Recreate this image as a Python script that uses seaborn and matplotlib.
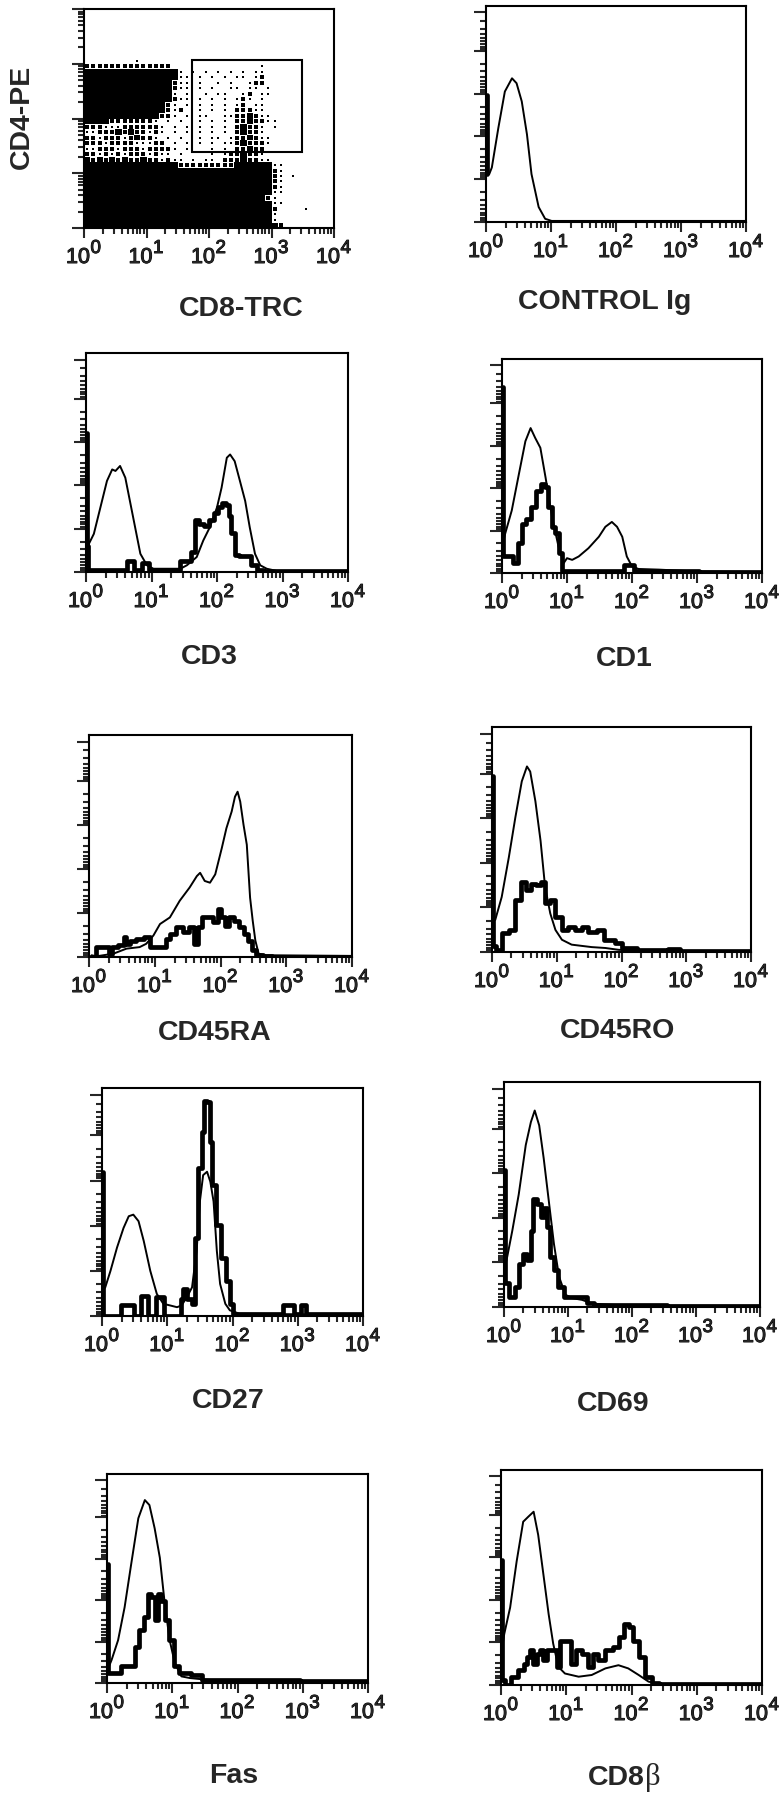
import numpy as np
import matplotlib
matplotlib.use("Agg")
import matplotlib.pyplot as plt
import matplotlib.patheffects as pe
from matplotlib.colors import ListedColormap
from matplotlib.patches import Rectangle
from matplotlib.transforms import offset_copy
import seaborn as sns

# --- data (x in log10 decades, histogram y in % of axis height) ---
DECADES = [0, 1, 2, 3, 4]
TICK_BASE = "10"
TICK_EXPONENTS = ["0", "1", "2", "3", "4"]

# CD8-TRC vs CD4-PE dot plot, 40x40 cells of 0.1 decade, top row first
# '#' solid, 'o' dense dots, '+' sparse dots, '.' empty
DOT_MAP = [
    "........................................",
    "........................................",
    "........................................",
    "........................................",
    "........................................",
    "........................................",
    "........................................",
    "........................................",
    "........................................",
    "........+...............................",
    "oooooooooooooo..............+...........",
    "###############+.+.+.+.+.+.++...........",
    "###############++.+.+.+.++.+o...........",
    "##############o++.+..+.+..+oo...........",
    "##############o++.+.+..++.++.+..........",
    "##############+.+..+.++..+o.++..........",
    "##############o++.+.+.+.+o+.+...........",
    "#############o+.+.+.+.+.+o.++...........",
    "#############o+o..+.+.+.ooo++...........",
    "############oo+.+.++..++oo#o++..........",
    "####ooooooo+.+.+..+.+.+.oo#oo++.........",
    "ooo+++oooooo+.+.+.+.+.+.o#oo+.+.........",
    "++ooo#o#oo+o+.+.+.+.+.+.o#oo+...........",
    "oo+ooo+o#oo+.+.+..+.++.+oo#o++..........",
    "ooo+oooo+++oo.+.+.+.+.++o#ooo+..........",
    "++ooo+ooo+oooo+.+...+.+.oo#oo...........",
    "oo+o+o+ooo+o++.+....+.+oo#oo+...........",
    "#o#o#o#oo#oo+o++.+.++.ooo#oo++..........",
    "###############ooooooooo######++........",
    "##############################o+........",
    "##############################o+.+......",
    "##############################o+........",
    "##############################o+........",
    "##############################++........",
    "#############################o+.........",
    "##############################++........",
    "##############################o....+....",
    "##############################+.........",
    "##############################+.........",
    "###############################o........",
]
GATE_X = [1.72, 3.49]
GATE_Y = [1.39, 3.06]

CTRL_THIN_X = [0.05, 0.09, 0.19, 0.29, 0.40, 0.47, 0.55, 0.63, 0.70, 0.81, 0.91, 1.01, 4.0]
CTRL_THIN_Y = [22.4, 25.5, 44, 61, 67.2, 64.9, 56.4, 41, 22.4, 7, 1.5, 0.5, 0.5]
CTRL_THICK_X = [0.02, 0.02]
CTRL_THICK_Y = [59.5, 22.4]

CD3_THIN_X = [0.02, 0.12, 0.22, 0.32, 0.40, 0.45, 0.52, 0.60, 0.68, 0.75, 0.83, 0.93, 1.03,
              1.13, 1.44, 1.54, 1.69, 1.79, 1.89, 2.00, 2.07, 2.15, 2.20, 2.27, 2.35, 2.43,
              2.50, 2.58, 2.66, 2.76, 2.91, 4.0]
CD3_THIN_Y = [11.5, 17.6, 29.8, 42, 47.3, 46.6, 48.9, 43.5, 31.3, 20.6, 8.4, 3.1, 1.5,
              1.5, 1.5, 3.1, 6.9, 14.5, 20.6, 29.8, 38.9, 52.7, 54.2, 51.1, 42, 32.8,
              20.6, 8.4, 3.1, 1.5, 0.5, 0.5]
CD3_THICK_X = [0.02, 0.02, 0.05, 0.60, 0.65, 0.72, 0.76, 0.84, 0.88, 0.94, 0.98, 1.40, 1.46,
               1.58, 1.64, 1.70, 1.76, 1.84, 1.92, 1.98, 2.04, 2.10, 2.16, 2.20, 2.24, 2.30,
               2.36, 2.48, 2.56, 2.66, 2.74, 4.0]
CD3_THICK_Y = [64, 12, 1, 1, 5, 5, 1, 1, 4, 4, 1, 1, 5, 5, 9, 24, 22, 21, 24, 27, 30, 32,
               31, 26, 18, 8, 7.6, 7.6, 3, 1, 0.5, 0.5]

CD1_THIN_X = [0.02, 0.05, 0.15, 0.26, 0.36, 0.44, 0.51, 0.59, 0.67, 0.77, 0.87, 0.95, 1.00,
              1.08, 1.18, 1.33, 1.49, 1.59, 1.69, 1.77, 1.85, 1.92, 2.00, 2.10, 2.41, 2.67,
              2.92, 4.0]
CD1_THIN_Y = [15, 18.7, 29.5, 46.7, 62.2, 68.4, 63.8, 59.1, 45.1, 26.4, 12.4, 4.7, 7,
              6.2, 7.8, 11.7, 17.1, 21.8, 24.1, 21.8, 17.1, 7.8, 3.1, 1.9, 1.6, 1.2, 0.8, 0.5]
CD1_THICK_X = [0.02, 0.02, 0.08, 0.15, 0.20, 0.28, 0.33, 0.41, 0.49, 0.56, 0.64, 0.69, 0.74,
               0.79, 0.85, 0.90, 0.95, 1.85, 1.90, 2.00, 2.05, 4.0]
CD1_THICK_Y = [88, 8, 7.8, 7.8, 4.7, 14, 23.3, 25.7, 31.1, 38.9, 42, 40.4, 31.1, 21.8,
               18.7, 9.3, 0.8, 0.8, 4, 4, 0.8, 0.5]

CD45RA_THIN_X = [0.04, 0.11, 0.37, 0.57, 0.77, 0.87, 0.98, 1.08, 1.23, 1.38, 1.53, 1.64,
                 1.69, 1.76, 1.84, 1.92, 2.02, 2.09, 2.17, 2.22, 2.26, 2.30, 2.35, 2.40,
                 2.45, 2.49, 2.53, 2.58, 2.70, 4.0]
CD45RA_THIN_Y = [0.8, 0.3, 1.5, 3.8, 4.5, 6, 9.8, 15, 18, 25.6, 31.6, 36.8, 38.3, 34.6,
                 33.8, 37.6, 49.6, 58.6, 66.2, 72.9, 75.2, 70.7, 60.2, 51.1, 27, 16.5, 7.5,
                 1.5, 0.8, 0.5]
CD45RA_THICK_X = [0.01, 0.06, 0.16, 0.26, 0.34, 0.37, 0.52, 0.54, 0.59, 0.67, 0.77, 0.90,
                  0.95, 1.15, 1.18, 1.28, 1.38, 1.48, 1.56, 1.64, 1.69, 1.74, 1.84, 1.92,
                  1.99, 2.04, 2.09, 2.17, 2.25, 2.32, 2.40, 2.45, 2.50, 2.58, 2.70, 2.86, 4.0]
CD45RA_THICK_Y = [0, 0, 4.5, 4.5, 1.5, 4.5, 5.3, 9, 6, 7.5, 8.3, 9, 4.5, 4.5, 8.3, 10.5,
                  13.5, 11.3, 13.5, 6, 13.5, 18, 18, 15.8, 21.8, 18, 14.3, 18, 16.5, 13.5,
                  10.5, 7.5, 3, 0.8, 0.3, 0, 0]

CD45RO_THIN_X = [0.05, 0.15, 0.26, 0.36, 0.46, 0.54, 0.59, 0.67, 0.75, 0.82, 0.90, 0.98,
                 1.08, 1.23, 1.54, 1.75, 1.95, 2.31, 4.0]
CD45RO_THIN_Y = [14.4, 24.7, 42.5, 60.3, 76.6, 83.3, 81, 67.7, 49.9, 29.2, 17.3, 9.9, 5.5,
                 3.3, 2.2, 1.8, 1, 0.3, 0.3]
CD45RO_THICK_X = [0.02, 0.02, 0.10, 0.21, 0.31, 0.41, 0.49, 0.57, 0.64, 0.72, 0.80, 0.85,
                  0.93, 1.03, 1.13, 1.23, 1.34, 1.44, 1.54, 1.70, 1.75, 1.85, 1.95, 2.06,
                  2.16, 2.31, 2.57, 2.88, 2.93, 4.0]
CD45RO_THICK_Y = [78.8, 2.5, 1, 8.4, 9.9, 23.3, 31.4, 27.7, 30.7, 29.9, 31.4, 21.8, 23.3,
                  15.9, 9.9, 11.4, 9.9, 11.4, 9.2, 9.9, 5.5, 5.5, 4, 1.8, 1.8, 1, 0.7, 1.3,
                  0.3, 0.3]

CD27_THIN_X = [0.03, 0.05, 0.13, 0.23, 0.33, 0.41, 0.48, 0.56, 0.64, 0.74, 0.84, 0.94, 1.04,
               1.15, 1.22, 1.30, 1.38, 1.45, 1.50, 1.55, 1.61, 1.66, 1.71, 1.76, 1.81, 1.89,
               1.96, 2.11, 4.0]
CD27_THIN_Y = [12, 12.7, 20, 30.3, 39, 44.2, 44.9, 42, 33.2, 20, 9.8, 5.4, 4.7, 3.9, 4.7,
               8.3, 12.7, 28.8, 50.7, 62.4, 63.9, 59.5, 50.7, 28.8, 14.2, 5.4, 2.5, 1, 0.5]
CD27_THICK_X = [0.02, 0.02, 0.05, 0.28, 0.30, 0.48, 0.50, 0.59, 0.61, 0.69, 0.71, 0.82,
                0.84, 0.94, 0.96, 1.20, 1.22, 1.27, 1.35, 1.40, 1.45, 1.50, 1.55, 1.59,
                1.63, 1.67, 1.71, 1.78, 1.86, 1.94, 1.99, 2.04, 2.76, 2.78, 2.93, 2.95,
                3.04, 3.06, 3.11, 3.13, 4.0]
CD27_THICK_Y = [64, 0, 0, 0, 4.7, 4.7, 0, 0, 9, 9, 0, 0, 8.3, 8.3, 0, 0, 7.6, 12, 7.6,
                5.4, 34.6, 65.4, 81.4, 95.3, 94.6, 77, 58, 40.5, 25.9, 15.6, 5.4, 1, 1,
                4.7, 4.7, 1, 1, 4.7, 4.7, 1, 1]

CD69_THIN_X = [0.03, 0.05, 0.13, 0.23, 0.34, 0.42, 0.48, 0.55, 0.62, 0.70, 0.78, 0.86, 0.96,
               1.06, 1.22, 1.38, 1.90, 4.0]
CD69_THIN_Y = [20, 22.5, 34.3, 50.5, 72.7, 83, 88.2, 81.5, 66.8, 47.6, 28.4, 13.6, 5.5, 4,
               3.2, 1.5, 0.6, 0.5]
CD69_THICK_X = [0.02, 0.02, 0.04, 0.13, 0.21, 0.26, 0.34, 0.39, 0.44, 0.47, 0.55, 0.60,
                0.65, 0.70, 0.75, 0.81, 0.88, 1.01, 1.27, 1.32, 1.48, 2.42, 2.68, 4.0]
CD69_THICK_Y = [61.6, 10.6, 10.6, 4.7, 9.2, 19.5, 23.9, 21, 34.3, 48.3, 46.1, 40.2, 44.6,
                35.7, 22.5, 16.5, 9.2, 4.7, 4.4, 1.8, 1, 1, 0.6, 0.3]

FAS_THIN_X = [0.03, 0.07, 0.17, 0.27, 0.37, 0.48, 0.58, 0.65, 0.73, 0.81, 0.88, 0.96, 1.04,
              1.14, 1.27, 1.52, 1.93, 4.0]
FAS_THIN_Y = [8, 11.1, 20.7, 36.6, 57.3, 79.6, 88.4, 86, 74.8, 60.5, 39.8, 20.7, 9.6, 3.2,
              2.4, 1.6, 0.8, 0.5]
FAS_THICK_X = [0.02, 0.02, 0.04, 0.19, 0.25, 0.40, 0.45, 0.53, 0.60, 0.65, 0.71, 0.76,
               0.81, 0.86, 0.91, 0.99, 1.06, 1.14, 1.42, 1.50, 1.93, 4.0]
FAS_THICK_Y = [57.3, 4.8, 4.8, 4.8, 8, 8, 17.5, 25.5, 31.8, 43, 41.4, 30.3, 43, 39.8, 30.3,
               20.7, 8, 4.8, 4, 1.6, 1.3, 1]

CD8B_THIN_X = [0.03, 0.05, 0.14, 0.24, 0.34, 0.42, 0.50, 0.57, 0.65, 0.73, 0.80, 0.88, 0.98,
               1.19, 1.39, 1.60, 1.80, 1.95, 2.11, 2.26, 2.41, 4.0]
CD8B_THIN_Y = [20, 24, 36.4, 58.1, 76.7, 79.1, 81.4, 70.5, 51.9, 33.3, 19.4, 8.5, 5.4, 3.9,
               4.7, 7.8, 9.3, 7.8, 4.7, 1.6, 0.5, 0.5]
CD8B_THICK_X = [0.02, 0.02, 0.11, 0.21, 0.32, 0.37, 0.42, 0.47, 0.52, 0.57, 0.62, 0.68,
                0.73, 0.83, 0.88, 0.93, 1.03, 1.11, 1.19, 1.29, 1.37, 1.44, 1.54, 1.65,
                1.77, 1.85, 1.93, 1.98, 2.06, 2.16, 2.26, 2.36, 2.47, 4.0]
CD8B_THICK_Y = [58.9, 2.3, 0, 3.9, 7, 10.1, 13.2, 16.3, 10.1, 14.7, 16.3, 11.6, 16.3, 16.3,
                8.5, 20.9, 20.9, 10.1, 16.3, 14.7, 8.5, 14.7, 11.6, 16.3, 17.8, 22.5, 28.7,
                27.1, 20.9, 13.2, 3.9, 1.1, 0.5, 0.5]

HISTOGRAMS = [
    ("CONTROL Ig", CTRL_THIN_X, CTRL_THIN_Y, CTRL_THICK_X, CTRL_THICK_Y),
    ("CD3", CD3_THIN_X, CD3_THIN_Y, CD3_THICK_X, CD3_THICK_Y),
    ("CD1", CD1_THIN_X, CD1_THIN_Y, CD1_THICK_X, CD1_THICK_Y),
    ("CD45RA", CD45RA_THIN_X, CD45RA_THIN_Y, CD45RA_THICK_X, CD45RA_THICK_Y),
    ("CD45RO", CD45RO_THIN_X, CD45RO_THIN_Y, CD45RO_THICK_X, CD45RO_THICK_Y),
    ("CD27", CD27_THIN_X, CD27_THIN_Y, CD27_THICK_X, CD27_THICK_Y),
    ("CD69", CD69_THIN_X, CD69_THIN_Y, CD69_THICK_X, CD69_THICK_Y),
    ("Fas", FAS_THIN_X, FAS_THIN_Y, FAS_THICK_X, FAS_THICK_Y),
    ("CD8β", CD8B_THIN_X, CD8B_THIN_Y, CD8B_THICK_X, CD8B_THICK_Y),
]

# --- layout (pixel boxes: left, top, right, bottom; label: centre x, baseline y) ---
W, H = 784, 1800
DOT_BOX = (84, 9, 334, 228)
HIST_BOXES = [(486, 6, 746, 222), (86, 353, 348, 572), (502, 359, 762, 573),
              (89, 735, 352, 957), (492, 727, 751, 952), (102, 1088, 363, 1316),
              (504, 1082, 760, 1307), (107, 1474, 368, 1683), (501, 1470, 762, 1685)]
HIST_LABEL_POS = [(605, 309), (209, 664), (624, 666), (215, 1040), (618, 1038),
                  (228, 1408), (613, 1411), (234, 1783), (623, 1785)]

sns.set_style("white")
plt.rcParams["font.family"] = ["Liberation Sans", "DejaVu Sans"]

fig = plt.figure(figsize=(W / 100, H / 100), dpi=100)
fig.patch.set_facecolor("white")

LOG_MINORS = [k + np.log10(m) for k in range(4) for m in range(2, 10)]
INK = [pe.withStroke(linewidth=0.7, foreground="black")]


def px_axes(box):
    l, t, r, b = box
    return fig.add_axes([l / W, 1 - b / H, (r - l) / W, (b - t) / H])


def style_axes(ax):
    for sp in ax.spines.values():
        sp.set_visible(True)
        sp.set_color("black")
        sp.set_linewidth(1.5)
    ax.set_xlim(0, 4)
    ax.set_xticks(DECADES)
    ax.set_xticklabels([])
    ax.set_xticks(LOG_MINORS, minor=True)
    ax.tick_params(axis="x", which="major", direction="out", length=7, width=1.5,
                   bottom=True, top=False)
    ax.tick_params(axis="x", which="minor", direction="out", length=4.5, width=1.5,
                   bottom=True, top=False)
    ax.tick_params(axis="y", which="major", direction="out", length=9, width=1.5,
                   left=True, right=False, labelleft=False)
    ax.tick_params(axis="y", which="minor", direction="out", length=4.5, width=1.5,
                   left=True, right=False)
    ax.set_xlabel("")
    ax.set_ylabel("")
    ax.grid(False)
    # decade labels: "10" plus a large raised exponent
    base_tr = offset_copy(ax.get_xaxis_transform(), fig=fig, x=6, y=-35, units="dots")
    sup_tr = offset_copy(ax.get_xaxis_transform(), fig=fig, x=6.5, y=-25, units="dots")
    for k, e in zip(DECADES, TICK_EXPONENTS):
        ax.text(k, 0, TICK_BASE, transform=base_tr, ha="right", va="baseline",
                fontsize=15.5, path_effects=INK)
        ax.text(k, 0, e, transform=sup_tr, ha="left", va="baseline", fontsize=13.5,
                path_effects=INK)


def label(x, y, txt, **kw):
    fig.text(x / W, 1 - y / H, txt, ha="center", va="baseline", fontsize=20.5,
             fontweight="bold", **kw)


# --- dot plot ---
ax = px_axes(DOT_BOX)
grid = np.array([list(row.ljust(40, ".")[:40]) for row in DOT_MAP])[::-1]
edges = np.linspace(0, 4, 41)
centers = (edges[:-1] + edges[1:]) / 2
solid = np.ma.masked_where(grid != "#", np.ones(grid.shape))
ax.pcolormesh(edges, edges, solid, cmap=ListedColormap(["black"]), shading="flat")
for ch, size in (("o", 11), ("+", 2.8)):
    rr, cc = np.nonzero(grid == ch)
    sns.scatterplot(x=centers[cc], y=centers[rr], marker="s", s=size, color="black",
                    linewidth=0, ax=ax, legend=False)
ax.add_patch(Rectangle((GATE_X[0], GATE_Y[0]), GATE_X[1] - GATE_X[0],
                       GATE_Y[1] - GATE_Y[0], fill=False, lw=1.5, color="black"))
style_axes(ax)
ax.set_ylim(0, 4)
ax.set_yticks(DECADES)
ax.set_yticks(LOG_MINORS, minor=True)
label(241, 316, "CD8-TRC")
fig.text(22 / W, 1 - 117 / H, "CD4-PE", ha="center", va="center", rotation=90,
         fontsize=20.5, fontweight="bold")

# --- histograms ---
hist_minors = [hi - 20 * np.log10(m) for hi in (20, 40, 60, 80, 100) for m in range(2, 10)]
for (name, tx, ty, kx, ky), box, pos in zip(HISTOGRAMS, HIST_BOXES, HIST_LABEL_POS):
    ax = px_axes(box)
    sns.lineplot(x=kx, y=ky, ax=ax, color="black", lw=3.4, sort=False, estimator=None,
                 drawstyle="steps-mid")
    sns.lineplot(x=tx, y=ty, ax=ax, color="black", lw=1.4, sort=False, estimator=None)
    style_axes(ax)
    ax.set_ylim(0, 101)
    ax.set_yticks([0, 20, 40, 60, 80, 98])
    ax.set_yticks(hist_minors, minor=True)
    if name == "CD8β":
        fig.text((pos[0] + 22) / W, 1 - pos[1] / H, "CD8", ha="right", va="baseline",
                 fontsize=20.5, fontweight="bold")
        fig.text((pos[0] + 22) / W, 1 - pos[1] / H, "β", ha="left", va="baseline",
                 fontsize=22, family=["Liberation Serif", "DejaVu Serif"])
    else:
        label(pos[0], pos[1], name)

fig.savefig("out.png", dpi=100, facecolor="white")
